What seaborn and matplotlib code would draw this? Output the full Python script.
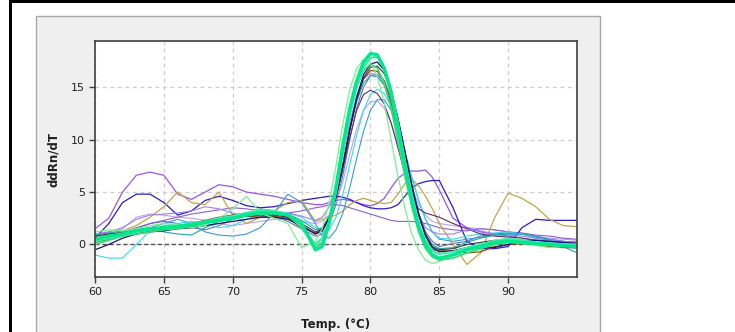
import matplotlib
matplotlib.use("Agg")
import matplotlib.pyplot as plt
from matplotlib.patches import Rectangle
import numpy as np
import pandas as pd
import seaborn as sns

# Melt-curve derivative data (ddRn/dT).
# Shared temperature grid: 1 degree steps outside the peak, 0.5 inside it.
temps = [60, 61, 62, 63, 64, 65, 66, 67, 68, 69, 70, 71, 72, 73, 74, 75, 76,
         76.5, 77, 77.5, 78, 78.5, 79, 79.5, 80, 80.5, 81, 81.5, 82, 82.5,
         83, 83.5, 84, 84.5, 85,
         86, 87, 88, 89, 90, 91, 92, 93, 94, 95]

slate = [0.6, 0.8, 1.1, 1.5, 2.0, 2.2, 2.0, 1.6, 1.4, 1.8, 2.4, 2.8, 3.0, 2.7, 2.2, 1.5, 0.8,
         1.0, 2.0, 3.8, 6.6, 10.0, 13.0, 15.0, 16.1, 16.2, 15.6, 14.0, 11.5, 8.6, 5.6, 3.0, 1.2, 0.3, -0.2,
         0.1, 0.3, 0.8, 1.0, 1.1, 1.0, 0.7, 0.5, 0.3, 0.2]
lavender = [1.0, 1.2, 1.5, 2.6, 2.9, 2.8, 2.6, 2.5, 2.3, 2.0, 1.8, 2.0, 2.2, 2.4, 2.4, 2.2, 2.0,
            2.2, 2.8, 4.0, 6.0, 8.6, 11.0, 12.8, 13.6, 13.7, 13.0, 11.6, 9.6, 7.4, 5.4, 3.8, 2.8, 2.2, 2.0,
            1.8, 1.6, 1.5, 1.4, 1.2, 1.0, 0.8, 0.6, 0.5, 0.4]
violet = [0.4, 0.8, 1.2, 1.6, 2.0, 2.3, 2.6, 2.9, 3.1, 3.3, 3.5, 3.4, 3.2, 3.0, 3.0, 3.2, 3.5,
          3.6, 3.8, 3.8, 3.7, 3.5, 3.3, 3.1, 2.9, 2.7, 2.5, 2.3, 2.2, 2.2, 2.2, 2.1, 2.0, 1.8, 1.6,
          1.4, 1.3, 1.5, 1.4, 1.2, 1.1, 0.9, 0.8, 0.6, 0.5]
blueviolet = [1.5, 2.5, 5.0, 6.6, 6.9, 6.6, 4.8, 4.3, 5.0, 5.7, 5.5, 5.0, 4.8, 4.6, 4.3, 4.0, 3.8,
              3.8, 4.0, 4.2, 4.3, 4.2, 4.0, 3.8, 3.7, 3.9, 4.4, 5.4, 6.3, 6.8, 7.0, 7.0, 7.1, 6.4, 5.2,
              2.5, 1.6, 1.2, 1.0, 0.8, 0.6, 0.4, 0.3, 0.2, 0.2]
mediumblue = [0.6, 2.0, 4.0, 4.8, 4.8, 4.0, 2.8, 3.2, 4.2, 4.6, 4.2, 3.7, 3.5, 3.6, 3.9, 4.2, 4.4,
              4.5, 4.6, 4.6, 4.5, 4.3, 4.0, 3.7, 3.5, 3.4, 3.4, 3.5, 3.8, 4.6, 5.4, 5.8, 6.0, 6.1, 6.1,
              3.5, 0.3, -0.4, -0.4, -0.2, 1.6, 2.4, 2.3, 2.3, 2.3]
tan = [0.8, 1.0, 1.3, 1.8, 2.6, 3.6, 5.0, 4.0, 3.8, 5.0, 2.8, 2.0, 2.6, 3.2, 4.0, 4.2, 2.2,
       2.4, 2.6, 2.8, 3.2, 3.8, 4.2, 4.4, 4.2, 4.0, 3.9, 4.0, 4.8, 5.8, 6.2, 5.6, 4.6, 3.4, 2.0,
       0.0, -1.9, -0.8, 2.5, 4.9, 4.4, 3.6, 2.4, 1.8, 1.7]
steelblue = [0.6, 0.9, 1.2, 1.4, 1.6, 2.0, 2.4, 2.0, 1.2, 0.9, 0.8, 1.0, 1.6, 3.0, 4.8, 4.0, 2.0,
             0.8, 0.6, 1.4, 3.0, 5.4, 8.2, 10.8, 12.8, 13.8, 13.8, 12.8, 11.0, 8.8, 6.4, 4.2, 2.4, 1.2, 0.5,
             0.3, 0.5, 0.7, 0.9, 1.0, 1.0, 0.8, 0.5, 0.3, 0.2]
cyan = [-1.0, -1.3, -1.3, 0.0, 1.3, 1.8, 2.0, 2.2, 2.0, 1.6, 1.8, 2.4, 2.9, 3.2, 3.0, 2.6, 1.6,
        1.2, 1.4, 2.6, 4.8, 7.6, 10.4, 12.8, 14.3, 14.8, 14.4, 13.2, 11.2, 8.8, 6.4, 4.2, 2.4, 1.2, 0.6,
        0.5, 0.8, 1.0, 1.1, 1.2, 1.0, 0.6, 0.2, -0.2, -0.4]
darkpurple = [0.4, 0.7, 1.0, 1.2, 1.4, 1.5, 1.7, 2.0, 2.2, 2.5, 2.8, 3.0, 3.2, 3.0, 2.6, 1.8, 1.0,
              1.3, 2.4, 4.4, 7.2, 10.2, 12.8, 14.3, 14.7, 14.4, 13.4, 11.6, 9.2, 6.8, 4.6, 3.4, 3.0, 2.8, 2.6,
              2.0, 1.5, 1.0, 0.8, 0.7, 0.6, 0.4, 0.3, 0.2, 0.2]
mediumpurple = [1.0, 1.2, 1.6, 2.4, 2.8, 2.9, 3.0, 3.2, 3.6, 3.4, 3.0, 2.7, 2.6, 2.8, 3.0, 2.7, 2.3,
                2.6, 3.6, 5.5, 8.5, 11.6, 14.2, 15.8, 16.3, 16.2, 15.2, 13.2, 10.6, 7.8, 5.0, 2.8, 1.6, 1.2, 1.0,
                1.0, 1.4, 1.3, 1.0, 0.9, 0.8, 0.6, 0.4, 0.3, 0.2]
teal = [0.9, 1.1, 1.3, 1.4, 1.6, 1.2, 1.0, 0.9, 1.6, 2.2, 2.4, 2.9, 3.4, 3.2, 2.9, 2.3, 1.4,
        1.6, 2.6, 4.8, 7.8, 11.0, 13.6, 15.4, 16.1, 16.0, 15.2, 13.4, 10.8, 8.0, 5.2, 2.8, 1.0, 0.0, -0.4,
        -0.3, 0.2, 0.6, 0.9, 1.0, 1.0, 0.8, 0.4, -0.2, -0.8]
brown = [0.2, 0.5, 0.8, 1.0, 1.3, 1.5, 1.8, 2.0, 2.3, 2.6, 2.8, 2.7, 2.6, 2.7, 2.5, 1.6, 1.1,
         1.4, 2.5, 4.6, 7.6, 11.0, 13.9, 15.8, 16.6, 16.5, 15.6, 13.6, 10.8, 7.6, 4.6, 2.0, 0.4, -0.5, -0.6,
         -0.6, -0.8, -0.7, -0.2, 0.0, 0.1, 0.0, -0.2, -0.3, -0.3]
darkgray = [0.8, 1.0, 1.1, 1.3, 1.5, 1.7, 1.8, 2.0, 2.2, 2.4, 2.5, 2.7, 2.8, 2.8, 2.6, 2.0, 1.2,
            1.5, 2.6, 4.6, 7.4, 10.8, 13.8, 15.9, 16.9, 17.0, 16.3, 14.6, 12.0, 9.0, 5.8, 3.0, 1.0, -0.2, -0.5,
            -0.4, 0.0, 0.2, 0.4, 0.5, 0.4, 0.2, 0.1, 0.0, 0.0]
navy = [-0.5, 0.0, 0.6, 1.0, 1.2, 1.3, 1.5, 1.6, 1.8, 2.0, 2.2, 2.4, 2.6, 2.6, 2.4, 1.8, 1.0,
        1.3, 2.5, 4.5, 7.5, 11.0, 14.0, 16.2, 17.2, 17.4, 16.6, 14.8, 12.0, 8.8, 5.6, 2.8, 0.8, -0.3, -0.7,
        -0.6, -0.3, -0.2, -0.3, 0.0, 0.3, 0.4, 0.3, 0.2, 0.1]
lightgreen = [1.2, 1.4, 1.3, 1.5, 1.8, 2.0, 1.9, 1.6, 1.8, 2.5, 3.4, 4.6, 3.0, 2.5, 2.0, -0.3, 0.3,
              1.5, 4.0, 7.5, 11.5, 14.8, 16.8, 17.6, 17.4, 16.0, 13.5, 10.0, 6.5, 3.5, 1.0, -0.5, -1.5, -1.8, -1.6,
              -1.0, -0.5, 0.0, 0.4, 0.6, 0.5, -0.1, -0.3, -0.2, -0.2]
green = [0.0, 0.4, 0.8, 1.0, 1.2, 1.4, 1.5, 1.7, 2.0, 2.4, 2.7, 3.0, 3.2, 3.1, 2.8, 1.6, -0.3,
         0.2, 2.0, 5.0, 8.8, 12.4, 15.0, 16.6, 17.2, 16.8, 15.4, 13.0, 9.8, 6.5, 3.6, 1.2, -0.4, -1.2, -1.5,
         -1.3, -0.8, -0.4, 0.0, 0.2, 0.1, 0.0, -0.1, -0.1, -0.1]
aquamarine = [0.3, 0.6, 0.9, 1.2, 1.4, 1.6, 1.8, 2.0, 2.2, 2.5, 2.7, 3.0, 3.3, 3.2, 2.9, 1.8, 0.0,
              0.6, 2.2, 5.0, 8.8, 12.4, 15.0, 16.9, 17.8, 17.9, 16.9, 14.8, 11.6, 8.0, 4.7, 2.0, 0.3, -0.6, -0.9,
              -0.7, -0.3, 0.0, 0.3, 0.5, 0.4, 0.2, 0.1, 0.0, 0.0]
spring = [0.5, 0.8, 1.0, 1.3, 1.5, 1.6, 1.7, 1.9, 2.1, 2.3, 2.5, 2.8, 3.0, 3.0, 2.8, 2.0, -0.5,
          -0.2, 2.0, 5.5, 9.5, 13.0, 15.6, 17.4, 18.2, 18.1, 16.8, 14.5, 11.0, 7.5, 4.2, 1.6, 0.0, -1.0, -1.3,
          -1.0, -0.5, -0.2, 0.2, 0.3, 0.2, 0.1, 0.0, -0.1, -0.2]

# (series, colour, line width) in drawing order - thick green ends on top
wells = [
    (slate, "#5a78b4", 0.8), (lavender, "#b9a0fa", 0.8), (violet, "#8a60d0", 0.8),
    (blueviolet, "#9a55e8", 0.9), (mediumblue, "#2a1ad0", 0.9), (tan, "#c4a448", 0.9),
    (steelblue, "#3a9ad8", 0.8), (cyan, "#38d8f0", 0.8), (darkpurple, "#5c2e6e", 0.8),
    (mediumpurple, "#a07ef0", 0.8), (teal, "#20a8a8", 0.8), (brown, "#8b4a10", 0.9),
    (darkgray, "#383838", 0.8), (navy, "#14147a", 0.9), (lightgreen, "#80ee90", 0.9),
    (green, "#3cd878", 1.2), (aquamarine, "#3ee8b0", 1.6), (spring, "#00e88c", 2.4),
]

sns.set_theme(style="white")
plt.rcParams["font.family"] = ["DejaVu Sans"]

W, H = 735, 332
fig = plt.figure(figsize=(W / 100, H / 100), dpi=100)
fig.patch.set_facecolor("white")


def px_rect(x0, y0, x1, y1, **kw):
    """Rectangle in figure pixels measured from the top-left corner."""
    fig.patches.append(Rectangle((x0 / W, 1 - y1 / H), (x1 - x0) / W, (y1 - y0) / H,
                                 transform=fig.transFigure, figure=fig, zorder=-10, **kw))


# window frame and grey plot panel
px_rect(9, 0, W, 3, facecolor="black", edgecolor="none")
px_rect(9, 0, 12, H, facecolor="black", edgecolor="none")
px_rect(36, 16, 600, H + 2, facecolor="#efefef", edgecolor="#a8a8a8", linewidth=1)

ax = fig.add_axes([95 / W, 1 - 277 / H, (577 - 95) / W, (277 - 41) / H])
ax.set_facecolor("white")

for values, colour, lw in wells:
    df = pd.DataFrame({"temp": temps, "ddrn": values})
    sns.lineplot(data=df, x="temp", y="ddrn", color=colour, linewidth=lw, ax=ax)

ax.axhline(0, color="#505050", linewidth=1.0, linestyle=(0, (3, 2)), zorder=0.9)

ax.set_xlim(60, 95)
ax.set_ylim(-3.1, 19.4)
ax.set_xticks([60, 65, 70, 75, 80, 85, 90])
ax.set_yticks([0, 5, 10, 15])
ax.grid(True, color="#cccccc", linestyle=(0, (3, 3)), linewidth=0.9)
ax.set_axisbelow(True)
for side in ["left", "bottom", "right", "top"]:
    ax.spines[side].set_color("#404040")
    ax.spines[side].set_linewidth(1.2)
ax.tick_params(axis="both", direction="out", length=4, width=1, color="#404040",
               labelsize=8, labelcolor="#202020", pad=3, bottom=True, left=True)

ax.set_xlabel("Temp. (°C)", fontsize=8.5, fontweight="bold", color="#202020", labelpad=15)
ax.set_ylabel("ddRn/dT", fontsize=8.5, fontweight="bold", color="#202020", labelpad=8)

fig.savefig("out.png", dpi=100)
